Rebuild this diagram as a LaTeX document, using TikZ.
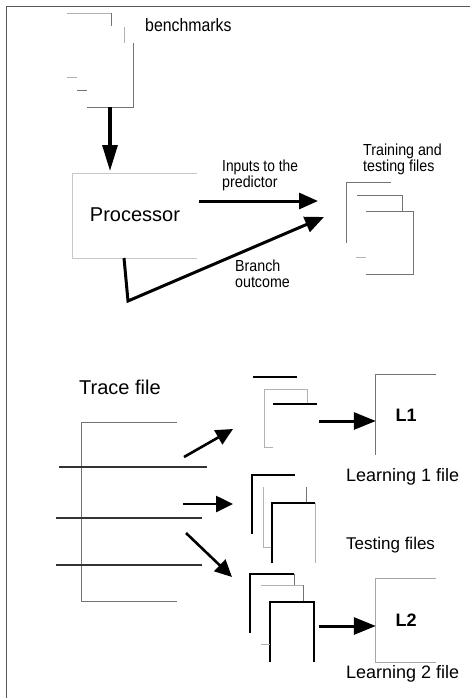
\documentclass[tikz,border=0pt]{standalone}
\usepackage{fontspec}
\setmainfont{Liberation Sans}
\usetikzlibrary{arrows.meta}
\newcommand{\narrowtxt}[1]{\scalebox{0.89}[1]{#1}}

\begin{document}
\begin{tikzpicture}[x=1pt,y=-1pt,
  frame/.style={draw=black!65, line width=1.6pt},
  sheet/.style={draw=black!55, line width=0.8pt},
  faint/.style={draw=black!30, line width=0.8pt},
  boxline/.style={draw=black!22, line width=0.8pt},
  ink/.style={draw=black, line width=1.8pt},
  rule/.style={draw=black!80, line width=1.1pt},
  bigarrow/.style={draw=black, line width=3pt, -{Triangle[length=19pt,width=16pt]}},
  downarrow/.style={draw=black, line width=3.2pt, -{Triangle[length=26pt,width=15pt]}},
  tracearrow/.style={draw=black, line width=2.6pt, -{Triangle[length=17pt,width=16pt]}},
  outarrow/.style={draw=black, line width=3pt, -{Triangle[length=22pt,width=17pt]}},
  label/.style={inner sep=0pt, anchor=west},
  small/.style={inner sep=0pt, anchor=north west, align=left, font=\fontsize{16}{16}\selectfont},
]
\useasboundingbox (0,0) rectangle (470,698);
\fill[white] (0,0) rectangle (470,698);

% outer frame (only left and top edges fall inside the page)
\draw[frame] (6.5,698) -- (6.5,6.5) -- (470,6.5);

% ---------- benchmarks stack ----------
\draw[faint] (67,13) -- (111,13);
\draw[sheet] (111,13) -- (111,26);
\draw[faint] (124,27) -- (124,43);
\draw[sheet] (133,43) -- (133,107) -- (87,107);
\draw[faint] (67,77) -- (77,77);
\draw[sheet] (77,90) -- (87,90);
\node[label, font=\fontsize{18}{20}\selectfont] (bench) at (145,25) {\scalebox{0.88}[1]{benchmarks}};

\coordinate (benchout) at (110,107);
\coordinate (procin) at (110,171);
\draw[downarrow] (benchout) -- (procin);

% ---------- processor ----------
\node[minimum width=124pt, minimum height=84pt, inner sep=0pt,
      font=\fontsize{20}{22}\selectfont] (proc) at (135,216) {\raisebox{2pt}{Processor}};
\draw[boxline] (proc.north east) -- (proc.north west) -- (proc.south west) -- (proc.south east);

% ---------- training and testing files ----------
\draw[sheet] (391,182) -- (346,182) -- (346,243);
\draw[sheet] (357,195) -- (402,195) -- (402,211);
\draw[sheet] (366,211) -- (413,211) -- (413,274) -- (366,274);
\draw[faint] (356,257) -- (366,257);
\node[small] (train) at (363,144) {\narrowtxt{Training and}\\\narrowtxt{testing files}};

% connectors from the processor
\coordinate (inpstart) at (199,201);
\coordinate (inpend) at (318,201);
\draw[bigarrow] (inpstart) -- (inpend);
\node[small] (inputs) at (222,160) {\scalebox{0.86}[1]{Inputs to the}\\\narrowtxt{predictor}};

\coordinate (brstart) at (124,258);
\coordinate (brbend) at (128,301);
\coordinate (brend) at (324,217);
\draw[bigarrow] (brstart) -- (brbend) -- (brend);
\node[small] (branch) at (235,260) {\narrowtxt{Branch}\\\narrowtxt{outcome}};

% ---------- trace file ----------
\node[label, font=\fontsize{20}{22}\selectfont] (tracelbl) at (79,387) {Trace file};
\draw[sheet] (177,422) -- (81,422) -- (81,601) -- (177,601);
\draw[rule] (59,467) -- (207,467);
\draw[rule] (56,518) -- (202,518);
\draw[rule] (56,565) -- (202,565);

\coordinate (t1s) at (184,457);
\coordinate (t1e) at (233,429);
\coordinate (t2s) at (183,504);
\coordinate (t2e) at (233,504);
\coordinate (t3s) at (186,533);
\coordinate (t3e) at (232,577);
\draw[tracearrow] (t1s) -- (t1e);
\draw[tracearrow] (t2s) -- (t2e);
\draw[tracearrow] (t3s) -- (t3e);

% ---------- learning 1 pieces ----------
\draw[ink] (253,377) -- (297,377);
\draw[faint] (273,447) -- (264,447) -- (264,389) -- (307,389) -- (307,404);
\draw[ink] (273,404) -- (317,404);

\node[minimum width=60pt, minimum height=80pt, inner sep=0pt,
      font=\bfseries\fontsize{18}{20}\selectfont] (l1) at (406,415) {\raisebox{-4pt}{L1}};
\draw[boxline, draw=black!55] (l1.north east) -- (l1.north west) -- (l1.south west);
\coordinate (l1in) at (319,421);
\draw[outarrow] (l1in) -- (l1.west |- l1in);
\node[label, font=\fontsize{18}{20}\selectfont] (learn1) at (346,477) {Learning 1 file};

% ---------- testing files ----------
\draw[ink] (295,475) -- (252,475) -- (252,534);
\draw[faint] (263,487) -- (263,547) -- (272,547);
\draw[sheet] (306,487) -- (306,503);
\draw[ink] (272,563) -- (272,503) -- (315,503);
\draw[faint] (315,503) -- (315,563);
\node[label, font=\fontsize{17}{19}\selectfont] (testlbl) at (346,545) {Testing files};

% ---------- learning 2 pieces ----------
\draw[ink] (250,633) -- (250,574) -- (294,574);
\draw[sheet] (294,574) -- (294,585);
\draw[faint] (261,585) -- (303,585);
\draw[sheet] (303,585) -- (303,602);
\draw[ink] (270,662) -- (270,602) -- (314,602) -- (314,662);
\draw[faint] (261,644) -- (270,644);

\node[minimum width=60pt, minimum height=83pt, inner sep=0pt,
      font=\bfseries\fontsize{18}{20}\selectfont] (l2) at (406,620.5) {L2};
\draw[boxline, draw=black!35] (l2.north east) -- (l2.north west) -- (l2.south west) -- (l2.south east);
\coordinate (l2in) at (319,626);
\draw[outarrow] (l2in) -- (l2.west |- l2in);
\node[label, font=\fontsize{18}{20}\selectfont] (learn2) at (346,674) {Learning 2 file};
\end{tikzpicture}
\end{document}
